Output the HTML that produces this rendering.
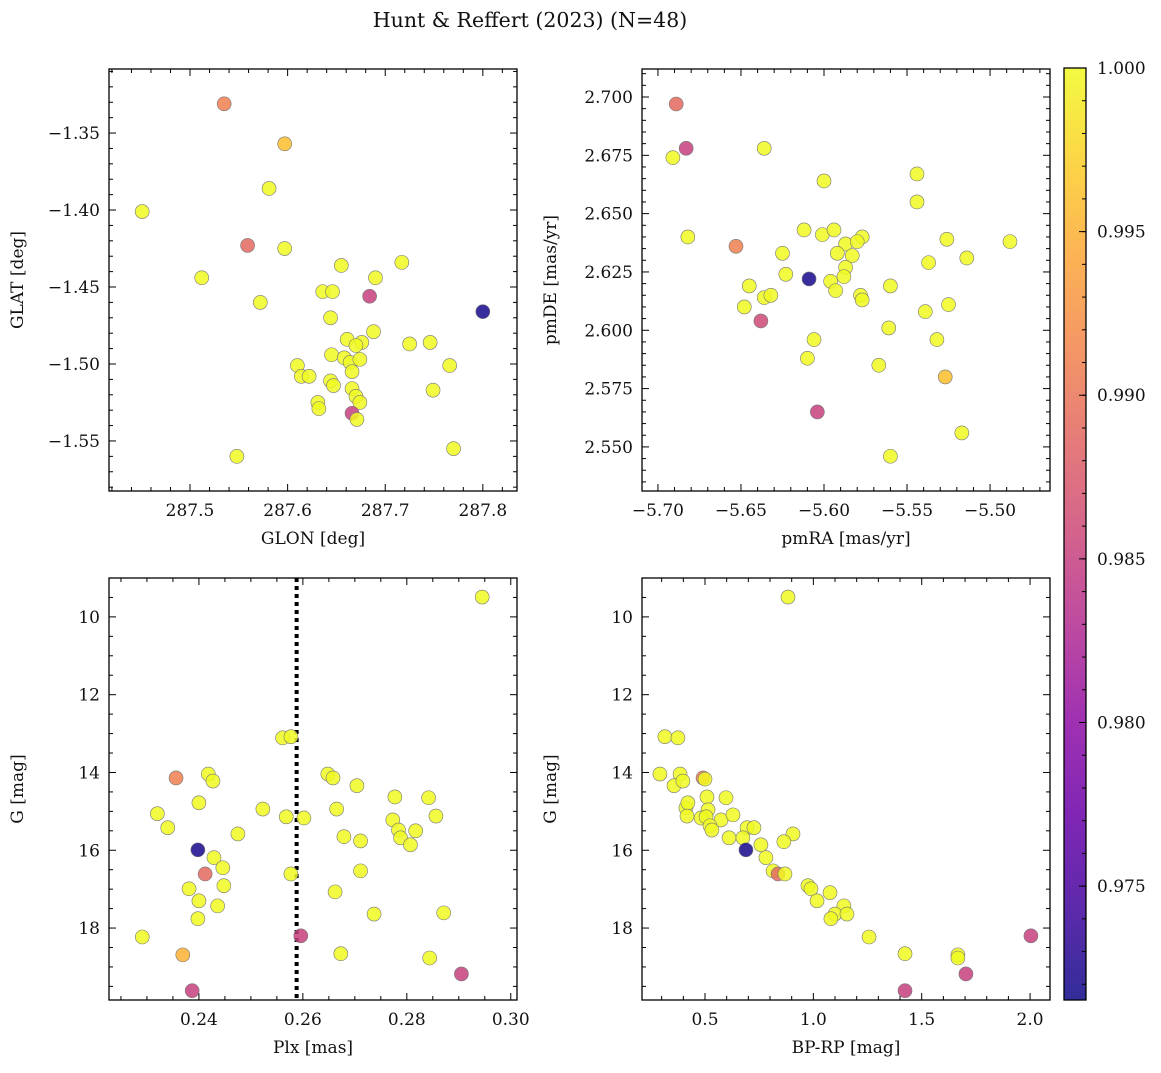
<!DOCTYPE html>
<html><head><meta charset="utf-8"><style>
body{margin:0;background:#fff;}
svg text{font-family:"DejaVu Serif","Liberation Serif",serif;fill:#111;}
</style></head><body>
<svg id="chart" width="1161" height="1068" xmlns="http://www.w3.org/2000/svg">
<defs><linearGradient id="cbgrad" x1="0" y1="1" x2="0" y2="0"></linearGradient></defs>
<text x="530" y="27" text-anchor="middle" font-size="20.5">Hunt &amp; Reffert (2023) (N=48)</text>
</svg>
<script>
// ---- data ----
const p1_glon=[287.535,287.597,287.451,287.581,287.559,287.597,287.512,287.572,287.655,287.717,287.690,287.636,287.646,287.684,287.800,287.644,287.688,287.661,287.676,287.670,287.725,287.746,287.645,287.610,287.658,287.664,287.674,287.666,287.614,287.622,287.766,287.644,287.647,287.666,287.749,287.670,287.674,287.631,287.632,287.666,287.671,287.548,287.770];
const p1_glat=[-1.331,-1.357,-1.401,-1.386,-1.423,-1.425,-1.444,-1.460,-1.436,-1.434,-1.444,-1.453,-1.453,-1.456,-1.466,-1.470,-1.479,-1.484,-1.486,-1.488,-1.487,-1.486,-1.494,-1.501,-1.496,-1.499,-1.497,-1.505,-1.508,-1.508,-1.501,-1.511,-1.514,-1.516,-1.517,-1.521,-1.525,-1.525,-1.529,-1.532,-1.536,-1.560,-1.555];
const p1_prob=[0.991,0.996,1,1,0.989,1,1,1,1,1,1,1,1,0.985,0.972,1,1,1,1,1,1,1,1,1,1,1,1,1,1,1,1,1,1,1,1,1,1,1,1,0.985,1,1,1];
const p2_pmra=[-5.689,-5.683,-5.691,-5.636,-5.600,-5.544,-5.544,-5.682,-5.653,-5.526,-5.488,-5.612,-5.601,-5.594,-5.587,-5.577,-5.580,-5.625,-5.592,-5.583,-5.587,-5.588,-5.623,-5.609,-5.537,-5.514,-5.645,-5.596,-5.593,-5.560,-5.636,-5.632,-5.578,-5.577,-5.648,-5.525,-5.539,-5.638,-5.561,-5.532,-5.606,-5.610,-5.567,-5.527,-5.604,-5.517,-5.560];
const p2_pmde=[2.697,2.678,2.674,2.678,2.664,2.667,2.655,2.640,2.636,2.639,2.638,2.643,2.641,2.643,2.637,2.640,2.638,2.633,2.633,2.632,2.627,2.623,2.624,2.622,2.629,2.631,2.619,2.621,2.617,2.619,2.614,2.615,2.615,2.613,2.610,2.611,2.608,2.604,2.601,2.596,2.596,2.588,2.585,2.580,2.565,2.556,2.546];
const p2_prob=[0.989,0.985,1,1,1,1,1,1,0.991,1,1,1,1,1,1,1,1,1,1,1,1,1,1,0.972,1,1,1,1,1,1,1,1,1,1,1,1,1,0.986,1,1,1,1,1,0.996,0.985,1,1];
const p3_plx=[0.2945,0.2561,0.2577,0.2356,0.2418,0.2427,0.2400,0.2648,0.2658,0.2704,0.2777,0.2842,0.2320,0.2340,0.2523,0.2665,0.2568,0.2602,0.2773,0.2856,0.2784,0.2817,0.2788,0.2679,0.2711,0.2475,0.2807,0.2398,0.2429,0.2446,0.2412,0.2577,0.2711,0.2448,0.2381,0.2662,0.2400,0.2436,0.2737,0.2871,0.2398,0.2596,0.2291,0.2369,0.2673,0.2844,0.2905,0.2387];
const p3_g=[9.49,13.11,13.08,14.14,14.04,14.22,14.78,14.04,14.14,14.34,14.63,14.65,15.06,15.42,14.94,14.94,15.14,15.17,15.22,15.12,15.48,15.50,15.68,15.65,15.76,15.58,15.86,15.99,16.19,16.45,16.61,16.61,16.53,16.91,16.99,17.07,17.30,17.43,17.64,17.61,17.76,18.20,18.23,18.69,18.66,18.77,19.18,19.61];
const p3_prob=[1,1,1,0.991,1,1,1,1,1,1,1,1,1,1,1,1,1,1,1,1,1,1,1,1,1,1,1,0.972,1,1,0.989,1,1,1,1,1,1,1,1,1,1,0.985,1,0.995,1,1,0.985,0.985];
const plxLine=[0.2588];
const p4_bprp=[0.883,0.315,0.375,0.292,0.385,0.357,0.491,0.5,0.398,0.509,0.597,0.412,0.421,0.514,0.417,0.482,0.505,0.574,0.629,0.523,0.532,0.694,0.726,0.906,0.611,0.675,0.758,0.864,0.689,0.781,0.814,0.837,0.869,0.975,0.989,1.077,1.017,1.141,1.100,1.155,1.081,1.257,2.004,1.423,1.667,1.667,1.704,1.423];
const p4_g=[9.49,13.08,13.11,14.04,14.04,14.34,14.14,14.17,14.22,14.63,14.65,14.91,14.78,14.96,15.12,15.17,15.14,15.22,15.09,15.37,15.48,15.42,15.42,15.58,15.68,15.68,15.86,15.78,15.99,16.19,16.53,16.61,16.61,16.91,16.99,17.09,17.30,17.43,17.64,17.64,17.76,18.23,18.20,18.66,18.69,18.77,19.18,19.61];
const p4_prob=[1,1,1,1,1,1,0.991,1,1,1,1,1,1,1,1,1,1,1,1,1,1,1,1,1,1,1,1,1,0.972,1,1,0.989,1,1,1,1,1,1,1,1,1,1,0.985,1,1,1,0.985,0.985];
const cbTicks=[0.975,0.980,0.985,0.990,0.995,1.000];
const VMIN=0.97152, VMAX=1.0;

const NS="http://www.w3.org/2000/svg";
const svg=document.getElementById('chart');
function mk(tag,attrs,parent){const e=document.createElementNS(NS,tag);for(const k in attrs)e.setAttribute(k,attrs[k]);(parent||svg).appendChild(e);return e;}
const plasma=[[13,8,135],[65,4,157],[106,0,168],[143,13,164],[177,42,144],[204,71,120],[225,100,98],[242,132,75],[252,166,54],[252,206,37],[240,249,33]];
function cmap(t){t=Math.max(0,Math.min(1,t));const f=t*(plasma.length-1);const i=Math.min(plasma.length-2,Math.floor(f));const r=f-i;const a=plasma[i],b=plasma[i+1];return `rgb(${Math.round(a[0]+(b[0]-a[0])*r)},${Math.round(a[1]+(b[1]-a[1])*r)},${Math.round(a[2]+(b[2]-a[2])*r)})`;}
function col(v){return cmap((v-VMIN)/(VMAX-VMIN));}

function fmt(v,d){const s=Math.abs(v).toFixed(d);return (v<-1e-9?'\u2212':'')+s;}
function panel(o){
  const g=mk('g',{});
  const sx=v=>o.x0+(v-o.xmin)/(o.xmax-o.xmin)*(o.x1-o.x0);
  const sy=o.yinv?(v=>o.y0+(v-o.ymin)/(o.ymax-o.ymin)*(o.y1-o.y0)):(v=>o.y1-(v-o.ymin)/(o.ymax-o.ymin)*(o.y1-o.y0));
  const eps=1e-9;
  for(let v=Math.ceil(o.xmin/o.xminor-eps)*o.xminor;v<=o.xmax+eps;v+=o.xminor){
    const X=sx(v);const isMaj=Math.abs(v/o.xmajor-Math.round(v/o.xmajor))<1e-6;const L=isMaj?7:4;
    mk('line',{x1:X,x2:X,y1:o.y1,y2:o.y1-L,stroke:'#000','stroke-width':1},g);
    mk('line',{x1:X,x2:X,y1:o.y0,y2:o.y0+L,stroke:'#000','stroke-width':1},g);
    if(isMaj){const t=mk('text',{x:X,y:o.y1+25,'text-anchor':'middle','font-size':17},g);t.textContent=fmt(v,o.xd);}
  }
  for(let v=Math.ceil(o.ymin/o.yminor-eps)*o.yminor;v<=o.ymax+eps;v+=o.yminor){
    const Y=sy(v);const isMaj=Math.abs(v/o.ymajor-Math.round(v/o.ymajor))<1e-6;const L=isMaj?7:4;
    mk('line',{x1:o.x0,x2:o.x0+L,y1:Y,y2:Y,stroke:'#000','stroke-width':1},g);
    mk('line',{x1:o.x1,x2:o.x1-L,y1:Y,y2:Y,stroke:'#000','stroke-width':1},g);
    if(isMaj){const t=mk('text',{x:o.x0-9,y:Y+6,'text-anchor':'end','font-size':17},g);t.textContent=fmt(v,o.yd);}
  }
  const cp='cp'+o.name;const c=mk('clipPath',{id:cp},g);mk('rect',{x:o.x0,y:o.y0,width:o.x1-o.x0,height:o.y1-o.y0},c);
  const pg=mk('g',{'clip-path':`url(#${cp})`},g);
  if(o.vline){for(const v of o.vline){const l=mk('line',{x1:sx(v),x2:sx(v),y1:o.y0,y2:o.y1,stroke:'#000','stroke-width':4,'stroke-dasharray':'4,4'},pg);}}
  for(let i=0;i<o.xs.length;i++){
    const p=mk('circle',{cx:sx(o.xs[i]),cy:sy(o.ys[i]),r:7,fill:col(o.cs[i]),'fill-opacity':0.85,stroke:'#777','stroke-width':0.6},pg);
    
    
  }
  mk('rect',{x:o.x0,y:o.y0,width:o.x1-o.x0,height:o.y1-o.y0,fill:'none',stroke:'#000','stroke-width':1.3},g);
  const xl=mk('text',{x:(o.x0+o.x1)/2,y:o.y1+53,'text-anchor':'middle','font-size':17},g);xl.textContent=o.xlabel;
  const yx=o.x0-86,yc=(o.y0+o.y1)/2;
  const yl=mk('text',{x:yx,y:yc,'text-anchor':'middle','font-size':17,transform:`rotate(-90 ${yx} ${yc})`},g);yl.textContent=o.ylabel;
}
panel({name:'glon-glat-panel',x0:109,x1:517,y0:69,y1:491,xmin:287.417,xmax:287.835,ymin:-1.5825,ymax:-1.3084,xmajor:0.1,xminor:0.02,ymajor:0.05,yminor:0.01,xd:1,yd:2,xs:p1_glon,ys:p1_glat,cs:p1_prob,xlabel:'GLON [deg]',ylabel:'GLAT [deg]'});
panel({name:'pm-panel',x0:642,x1:1050,y0:69,y1:491,xmin:-5.7096,xmax:-5.4639,ymin:2.5311,ymax:2.712,xmajor:0.05,xminor:0.01,ymajor:0.025,yminor:0.005,xd:2,yd:3,xs:p2_pmra,ys:p2_pmde,cs:p2_prob,xlabel:'pmRA [mas/yr]',ylabel:'pmDE [mas/yr]'});
panel({name:'plx-g-panel',x0:109,x1:517,y0:578,y1:1000,xmin:0.2227,xmax:0.3012,ymin:9.0,ymax:19.85,yinv:true,xmajor:0.02,xminor:0.005,ymajor:2,yminor:0.5,xd:2,yd:0,xs:p3_plx,ys:p3_g,cs:p3_prob,vline:plxLine,xlabel:'Plx [mas]',ylabel:'G [mag]'});
panel({name:'cmd-panel',x0:642,x1:1050,y0:578,y1:1000,xmin:0.2093,xmax:2.092,ymin:9.0,ymax:19.85,yinv:true,xmajor:0.5,xminor:0.1,ymajor:2,yminor:0.5,xd:1,yd:0,xs:p4_bprp,ys:p4_g,cs:p4_prob,xlabel:'BP-RP [mag]',ylabel:'G [mag]'});

const grad=document.getElementById('cbgrad');
for(let i=0;i<=10;i++){mk('stop',{offset:(i*10)+'%','stop-color':cmap(i/10),'stop-opacity':0.85},grad);}
const cb=mk('g',{});
const cx0=1064,cx1=1086,cy0=68,cy1=1000;
mk('rect',{x:cx0,y:cy0,width:cx1-cx0,height:cy1-cy0,fill:'url(#cbgrad)',stroke:'#000','stroke-width':1.3},cb);
const cyv=v=>cy1-(v-VMIN)/(VMAX-VMIN)*(cy1-cy0);
for(let v=0.972;v<=1.0005;v+=0.001){const Y=cyv(v);mk('line',{x1:cx1,x2:cx1-4,y1:Y,y2:Y,stroke:'#000','stroke-width':1},cb);}
for(const v of cbTicks){const Y=cyv(v);mk('line',{x1:cx1,x2:cx1-7,y1:Y,y2:Y,stroke:'#000','stroke-width':1},cb);const t=mk('text',{x:cx1+11,y:Y+6,'font-size':17},cb);t.textContent=v.toFixed(3);}
</script>
</body></html>
